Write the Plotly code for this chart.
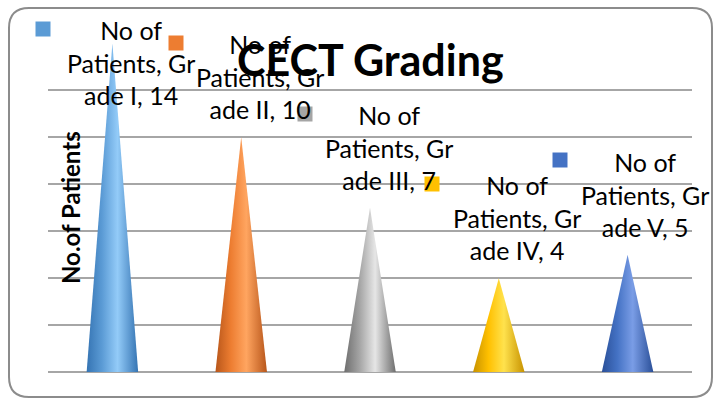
import plotly.graph_objects as go

categories = ["Grade I", "Grade II", "Grade III", "Grade IV", "Grade V"]
patients = [14, 10, 7, 4, 5]
series_name = "No of Patients"
colors = ["#5B9BD5", "#ED7D31", "#A5A5A5", "#FFC000", "#4472C4"]
dark = ["#3574B3", "#B8561A", "#6E6E6E", "#C79200", "#2A4F98"]
light = ["#93CBF8", "#FFA560", "#E6E6E6", "#FFE24D", "#7A9DE6"]

W, H = 720, 401
ML, MR, MT, MB = 48, 28, 43, 29
PW, PH = W - ML - MR, H - MT - MB


def px(x):
    return (x - ML) / PW


def py(y):
    return (H - MB - y) / PH


fig = go.Figure()
half = 0.2
for i, (cat, v) in enumerate(zip(categories, patients)):
    fig.add_trace(go.Scatter(
        x=[i - half, i, i + half, i - half],
        y=[0, v, 0, 0],
        mode="lines",
        line=dict(width=0, color=colors[i]),
        fill="toself",
        fillgradient=dict(
            type="horizontal",
            colorscale=[[0, dark[i]], [0.3, colors[i]], [0.6, light[i]], [1, dark[i]]],
        ),
        name=cat,
        hoverinfo="skip",
        showlegend=False,
    ))

# data labels (centre px x, centre px y of middle line) and key squares
label_pos = [(131, 62), (260, 77), (389, 147), (517, 217), (645, 195)]
key_pos = [(43, 29), (176, 43), (305, 114), (432, 184), (560, 160)]
annotations = []
shapes = []
for i, (cat, v) in enumerate(zip(categories, patients)):
    lx, ly = label_pos[i]
    annotations.append(dict(
        x=px(lx), y=py(ly), xref="paper", yref="paper",
        text=f"No of<br>Patients, Gr<br>ade {cat.split()[1]}, {v}",
        showarrow=False, xanchor="center", yanchor="middle",
        font=dict(family="Lato", size=25, color="#000000"),
    ))
    kx, ky = key_pos[i]
    shapes.append(dict(
        type="rect", xref="paper", yref="paper",
        x0=px(kx - 7.5), x1=px(kx + 7.5), y0=py(ky + 7.5), y1=py(ky - 7.5),
        fillcolor=colors[i], line=dict(width=0), layer="above",
    ))

# title and axis title
annotations.append(dict(
    x=px(370), y=py(59), xref="paper", yref="paper",
    text="<b>CECT Grading</b>", showarrow=False,
    xanchor="center", yanchor="middle",
    font=dict(family="Lato", size=43, color="#000000"),
))
annotations.append(dict(
    x=px(70), y=py(208), xref="paper", yref="paper",
    text="<b>No.of Patients</b>", showarrow=False, textangle=-90,
    xanchor="center", yanchor="middle",
    font=dict(family="Lato", size=24, color="#000000"),
))

# rounded chart border
x0, x1, y0, y1, r = 9, 712, 8, 397, 20
path = (
    f"M {px(x0 + r)} {py(y0)} L {px(x1 - r)} {py(y0)} "
    f"Q {px(x1)} {py(y0)} {px(x1)} {py(y0 + r)} L {px(x1)} {py(y1 - r)} "
    f"Q {px(x1)} {py(y1)} {px(x1 - r)} {py(y1)} L {px(x0 + r)} {py(y1)} "
    f"Q {px(x0)} {py(y1)} {px(x0)} {py(y1 - r)} L {px(x0)} {py(y0 + r)} "
    f"Q {px(x0)} {py(y0)} {px(x0 + r)} {py(y0)} Z"
)
shapes.append(dict(type="path", xref="paper", yref="paper", path=path,
                   line=dict(color="#8C8C8C", width=2), layer="below"))

fig.update_layout(
    width=W, height=H,
    margin=dict(l=ML, r=MR, t=MT, b=MB),
    paper_bgcolor="white", plot_bgcolor="white",
    xaxis=dict(range=[-0.5, 4.5], showgrid=False, zeroline=False,
               showticklabels=False, showline=False, ticks=""),
    yaxis=dict(range=[0, 14.02], dtick=2, tick0=0, showgrid=True,
               gridcolor="#A6A6A6", gridwidth=2, zeroline=True,
               zerolinecolor="#A6A6A6", zerolinewidth=2,
               showticklabels=False, showline=False, ticks=""),
    annotations=annotations,
    shapes=shapes,
    showlegend=False,
)

fig.write_html(
    "out.html",
    config={"displayModeBar": False},
    post_script="document.body.style.margin='0';document.body.style.padding='0';",
)
